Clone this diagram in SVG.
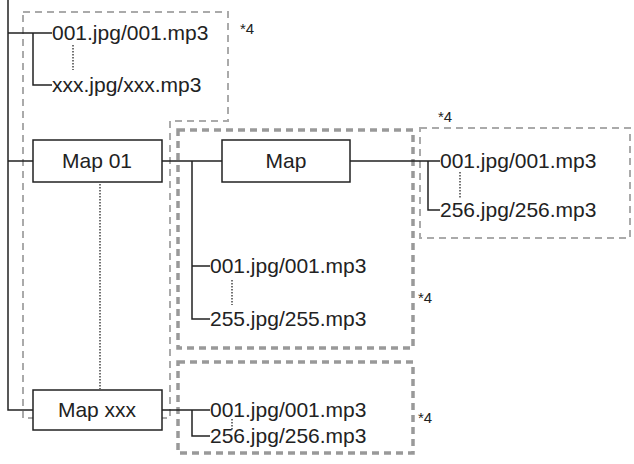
<svg xmlns="http://www.w3.org/2000/svg" width="634" height="464" viewBox="0 0 634 464">
<style>
text{font-family:"Liberation Sans",Arial,sans-serif;font-size:21px;fill:#222}
.t{text-anchor:middle}
.n{fill:#fff;stroke:#222;stroke-width:1.5}
.c{fill:none;stroke:#222;stroke-width:1.5}
.d{fill:none;stroke:#444;stroke-width:1.5;stroke-dasharray:1.5 1.5}
.thin{fill:none;stroke:#aaa;stroke-width:2;stroke-dasharray:7 5}
.thick{fill:none;stroke:#999;stroke-width:3.5;stroke-dasharray:7 5}
.s{font-size:15px}
</style>
<rect width="634" height="464" fill="#fff"/>
<g id="groups">
<path class="thin" d="M23 12H228V121H170V418H23Z"/>
<rect class="thick" x="178" y="130" width="235" height="218"/>
<rect class="thick" x="178" y="362" width="235" height="91"/>
<rect class="thin" x="420" y="128" width="210" height="110"/>
</g>
<g id="connectors">
<path class="c" d="M8 0V410H33M8 33H52M33 33V85H52M8 161H33M162 161H222M192 161V319H210M192 266H210M350 161H440M428 161V210H440M162 410H210M192 410V436H210"/>
<path class="d" d="M73 45V70M100 184V389M232 280V305M232 419V430M460 172V198"/>
</g>
<g id="top-files"><text x="52" y="40">001.jpg/001.mp3</text><text x="52" y="92">xxx.jpg/xxx.mp3</text><text class="s" x="240" y="34">*4</text></g>
<g id="map01"><rect class="n" x="33" y="140" width="129" height="42"/><text class="t" x="97" y="168">Map 01</text></g>
<g id="map"><rect class="n" x="222" y="140" width="128" height="42"/><text class="t" x="286" y="168">Map</text></g>
<g id="map-files"><text x="440" y="168">001.jpg/001.mp3</text><text x="440" y="217">256.jpg/256.mp3</text><text class="s" x="438" y="122">*4</text></g>
<g id="map01-files"><text x="210" y="273">001.jpg/001.mp3</text><text x="210" y="326">255.jpg/255.mp3</text><text class="s" x="418" y="303">*4</text></g>
<g id="mapxxx"><rect class="n" x="33" y="390" width="129" height="40"/><text class="t" x="97" y="417">Map xxx</text></g>
<g id="mapxxx-files"><text x="210" y="417">001.jpg/001.mp3</text><text x="210" y="443">256.jpg/256.mp3</text><text class="s" x="418" y="423">*4</text></g>
</svg>
